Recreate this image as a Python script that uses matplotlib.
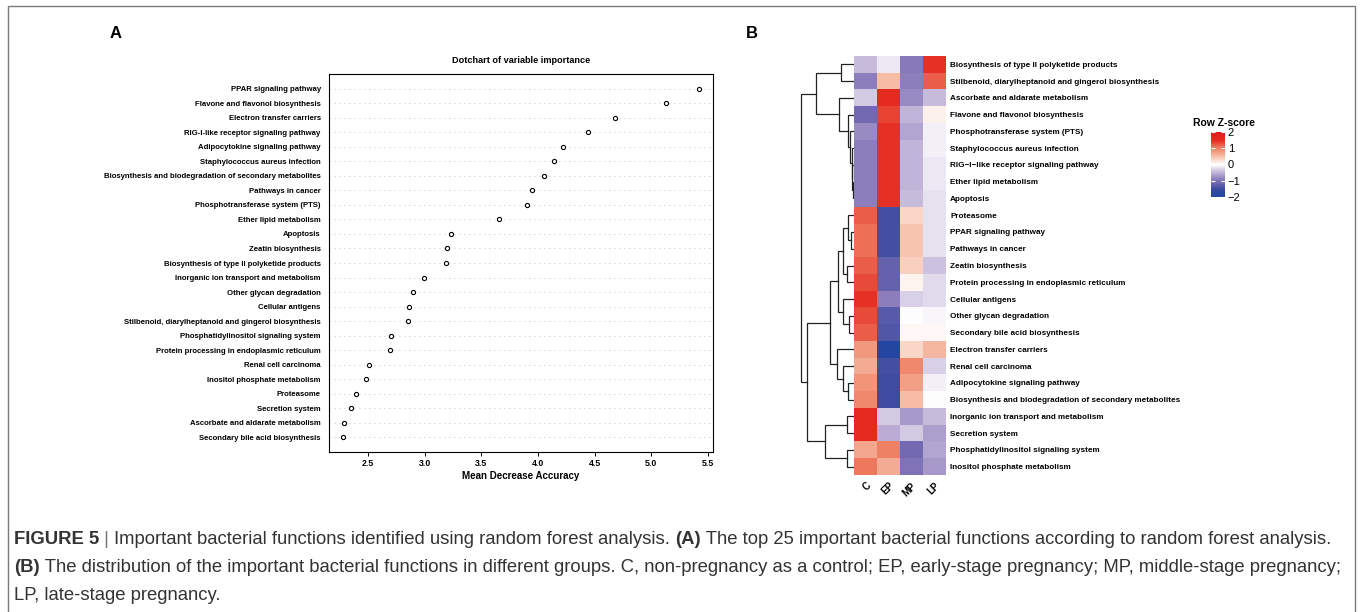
import numpy as np
import matplotlib
matplotlib.use("Agg")
import matplotlib.pyplot as plt
from matplotlib.colors import LinearSegmentedColormap, Normalize
from matplotlib.patches import Rectangle
import matplotlib.colorbar as mcolorbar

# ---------------------------------------------------------------------------
# Panel A data: random forest importance (top to bottom)
# ---------------------------------------------------------------------------
rf_labels = [
    "PPAR signaling pathway",
    "Flavone and flavonol biosynthesis",
    "Electron transfer carriers",
    "RIG-I-like receptor signaling pathway",
    "Adipocytokine signaling pathway",
    "Staphylococcus aureus infection",
    "Biosynthesis and biodegradation of secondary metabolites",
    "Pathways in cancer",
    "Phosphotransferase system (PTS)",
    "Ether lipid metabolism",
    "Apoptosis",
    "Zeatin biosynthesis",
    "Biosynthesis of type II polyketide products",
    "Inorganic ion transport and metabolism",
    "Other glycan degradation",
    "Cellular antigens",
    "Stilbenoid, diarylheptanoid and gingerol biosynthesis",
    "Phosphatidylinositol signaling system",
    "Protein processing in endoplasmic reticulum",
    "Renal cell carcinoma",
    "Inositol phosphate metabolism",
    "Proteasome",
    "Secretion system",
    "Ascorbate and aldarate metabolism",
    "Secondary bile acid biosynthesis",
]
rf_values = [5.42, 5.13, 4.68, 4.44, 4.22, 4.14, 4.05, 3.95, 3.90, 3.66,
             3.23, 3.20, 3.19, 2.99, 2.90, 2.86, 2.85, 2.70, 2.69, 2.51,
             2.48, 2.39, 2.35, 2.29, 2.28]
rf_ticks = [2.5, 3.0, 3.5, 4.0, 4.5, 5.0, 5.5]

# ---------------------------------------------------------------------------
# Panel B data: row z-scores (rows in clustered display order)
# ---------------------------------------------------------------------------
groups = ["C", "EP", "MP", "LP"]
hm_labels = [
    "Biosynthesis of type II polyketide products",
    "Stilbenoid, diarylheptanoid and gingerol biosynthesis",
    "Ascorbate and aldarate metabolism",
    "Flavone and flavonol biosynthesis",
    "Phosphotransferase system (PTS)",
    "Staphylococcus aureus infection",
    "RIG\u2212I\u2212like receptor signaling pathway",
    "Ether lipid metabolism",
    "Apoptosis",
    "Proteasome",
    "PPAR signaling pathway",
    "Pathways in cancer",
    "Zeatin biosynthesis",
    "Protein processing in endoplasmic reticulum",
    "Cellular antigens",
    "Other glycan degradation",
    "Secondary bile acid biosynthesis",
    "Electron transfer carriers",
    "Renal cell carcinoma",
    "Adipocytokine signaling pathway",
    "Biosynthesis and biodegradation of secondary metabolites",
    "Inorganic ion transport and metabolism",
    "Secretion system",
    "Phosphatidylinositol signaling system",
    "Inositol phosphate metabolism",
]
z_C = [-0.45, -0.9, -0.35, -1.1, -0.8, -0.9, -0.9, -0.9, -0.9,
       1.2, 1.1, 1.1, 1.2, 1.3, 1.45, 1.3, 1.2,
       0.8, 0.65, 0.85, 0.95, 1.5, 1.5, 0.7, 1.05]
z_EP = [-0.15, 0.5, 1.5, 1.35, 1.45, 1.45, 1.45, 1.45, 1.45,
        -1.45, -1.45, -1.45, -1.2, -1.2, -0.9, -1.3, -1.35,
        -1.9, -1.45, -1.5, -1.5, -0.35, -0.55, 1.0, 0.65]
z_MP = [-0.95, -0.9, -0.8, -0.5, -0.6, -0.5, -0.5, -0.5, -0.45,
        0.3, 0.45, 0.45, 0.35, 0.08, -0.3, 0.0, 0.05,
        0.3, 0.95, 0.75, 0.5, -0.7, -0.35, -1.1, -1.0]
z_LP = [1.45, 1.2, -0.45, 0.1, -0.1, -0.1, -0.15, -0.15, -0.2,
        -0.2, -0.2, -0.2, -0.4, -0.25, -0.25, -0.05, 0.05,
        0.55, -0.3, -0.1, 0.0, -0.45, -0.65, -0.6, -0.7]

# row dendrogram: (left, right, height), leaves 0..24, new clusters from 25
row_merges = [
    (7, 8, 1.2), (6, 25, 1.8), (5, 26, 2.5), (4, 27, 4.0), (3, 28, 5.7),
    (0, 1, 13.0), (2, 29, 15.0), (30, 31, 38.0),
    (10, 11, 3.0), (9, 33, 5.7), (12, 13, 7.3), (34, 35, 10.7),
    (15, 16, 5.0), (14, 37, 10.7), (36, 38, 15.7),
    (19, 20, 5.7), (18, 40, 10.7), (17, 41, 17.3), (39, 42, 24.0),
    (21, 22, 7.3), (23, 24, 7.3), (44, 45, 29.0),
    (43, 46, 47.3), (32, 47, 53.3),
]

caption_lines = [
    [("FIGURE 5", "bold"), (" | ", "light"),
     ("Important bacterial functions identified using random forest analysis. ", "normal"),
     ("(A)", "bold"),
     (" The top 25 important bacterial functions according to random forest analysis.", "normal")],
    [("(B)", "bold"),
     (" The distribution of the important bacterial functions in different groups. C, non-pregnancy as a control; "
      "EP, early-stage pregnancy; MP, middle-stage pregnancy;", "normal")],
    [("LP, late-stage pregnancy.", "normal")],
]

# ---------------------------------------------------------------------------
W, H = 1360, 612
plt.rcParams['font.family'] = ['Liberation Sans', 'DejaVu Sans']
fig = plt.figure(figsize=(W / 100, H / 100), dpi=100)


def px_axes(x0, y0, x1, y1):
    """Axes from pixel box (top-left origin)."""
    return fig.add_axes([x0 / W, 1 - y1 / H, (x1 - x0) / W, (y1 - y0) / H])


# outer frame
fig.patches.append(Rectangle((8 / W, -0.02), (1355 - 8) / W, 1.02 - 6 / H,
                             transform=fig.transFigure, fill=False,
                             edgecolor='#7a7a7a', lw=1.0))

fig.text(116 / W, 1 - 33 / H, "A", fontsize=12, fontweight='bold', ha='center', va='center')
fig.text(752 / W, 1 - 33 / H, "B", fontsize=12, fontweight='bold', ha='center', va='center')

# ---------------------------------------------------------------------------
# Panel A: dotchart
# ---------------------------------------------------------------------------
ax = px_axes(329, 74, 713, 452)
n = len(rf_values)
ypos = np.arange(n, 0, -1)
for y in ypos:
    ax.axhline(y, color='#b0b0b0', lw=0.6, ls=(0, (1, 5)), zorder=1)
ax.scatter(rf_values, ypos, s=9, facecolors='white', edgecolors='black',
           linewidths=0.8, zorder=3)
rng = max(rf_values) - min(rf_values)
ax.set_xlim(min(rf_values) - 0.04 * rng, max(rf_values) + 0.04 * rng)
ax.set_ylim(0, n + 1)
ax.set_yticks(ypos)
ax.set_yticklabels(rf_labels, fontsize=5.6, fontweight='bold')
ax.tick_params(axis='y', length=0, pad=6)
ax.set_xticks(rf_ticks)
ax.set_xticklabels([f"{t:.1f}" for t in rf_ticks], fontsize=6.3, fontweight='bold')
ax.tick_params(axis='x', length=3, width=0.7, pad=2)
for s in ax.spines.values():
    s.set_linewidth(0.8)
ax.set_xlabel("Mean Decrease Accuracy", fontsize=7, fontweight='bold', labelpad=2)
ax.set_title("Dotchart of variable importance", fontsize=6.6, fontweight='bold', pad=8)

# ---------------------------------------------------------------------------
# Panel B: heatmap + dendrogram + colour key
# ---------------------------------------------------------------------------
zmat = np.column_stack([z_C, z_EP, z_MP, z_LP])
cmap = LinearSegmentedColormap.from_list(
    "zs", [(0.0, "#1f46a2"), (0.12, "#3c4aa0"), (0.25, "#8072b6"),
           (0.38, "#c3b6da"), (0.5, "#ffffff"), (0.62, "#f7c0aa"),
           (0.75, "#ef8366"), (0.87, "#e52c21"), (1.0, "#e41a1c")])
norm = Normalize(-2, 2)

axh = px_axes(854, 56, 946, 475)
axh.imshow(zmat, cmap=cmap, norm=norm, aspect='auto',
           extent=(0, len(groups), len(hm_labels), 0), interpolation='nearest')
axh.set_xlim(0, len(groups))
axh.set_ylim(len(hm_labels), 0)
axh.yaxis.tick_right()
axh.set_yticks(np.arange(len(hm_labels)) + 0.5)
axh.set_yticklabels(hm_labels, fontsize=5.9, fontweight='bold')
axh.tick_params(axis='y', length=0, pad=3)
axh.set_xticks(np.arange(len(groups)) + 0.5)
axh.set_xticklabels(groups, fontsize=7, fontweight='bold', rotation=45,
                    ha='right', va='top', rotation_mode='anchor')
axh.tick_params(axis='x', length=0, pad=4)
for s in axh.spines.values():
    s.set_visible(False)

# dendrogram
axd = px_axes(795, 56, 854, 475)
centers = {i: i + 0.5 for i in range(len(hm_labels))}
heights = {i: 0.0 for i in range(len(hm_labels))}
for k, (a, b, h) in enumerate(row_merges):
    cid = len(hm_labels) + k
    ya, yb = centers[a], centers[b]
    axd.plot([heights[a], h, h, heights[b]], [ya, ya, yb, yb],
             color='#222222', lw=0.9, solid_joinstyle='miter')
    centers[cid] = (ya + yb) / 2
    heights[cid] = h
axd.set_xlim(59, 0)
axd.set_ylim(len(hm_labels), 0)
axd.axis('off')

# colour key
cax = px_axes(1211, 132, 1225, 197)
cb = mcolorbar.ColorbarBase(cax, cmap=cmap, norm=norm, ticks=[-2, -1, 0, 1, 2])
cb.outline.set_visible(False)
cax.tick_params(axis='y', direction='in', color='white', length=3, width=0.8,
                left=True, right=True, labelsize=8, pad=2)
fig.text(1193 / W, 1 - 123 / H, "Row Z-score", fontsize=7.5, fontweight='bold',
         ha='left', va='center')

# ---------------------------------------------------------------------------
# Caption
# ---------------------------------------------------------------------------
cap_family = ['Liberation Sans Narrow', 'Liberation Sans', 'DejaVu Sans']
renderer = fig.canvas.get_renderer()


def draw_runs(runs, x0, y0, fs, draw=True):
    x = x0
    for txt, wt in runs:
        t = fig.text(x / W, 1 - y0 / H, txt, fontsize=fs, fontweight=wt,
                     family=cap_family, color='#333333' if wt != 'light' else '#777777',
                     ha='left', va='center')
        bb = t.get_window_extent(renderer=renderer)
        x += bb.width
        if not draw:
            t.remove()
    return x - x0


w1 = draw_runs(caption_lines[0], 14, 540, 12, draw=False)
w2 = draw_runs(caption_lines[1], 14, 568, 12, draw=False)
cap_fs = 12 * (1344 - 14) / max(w1, w2)
for line, y in zip(caption_lines, [540, 568, 596]):
    draw_runs(line, 14, y, cap_fs)

fig.savefig("out.png", dpi=100)
